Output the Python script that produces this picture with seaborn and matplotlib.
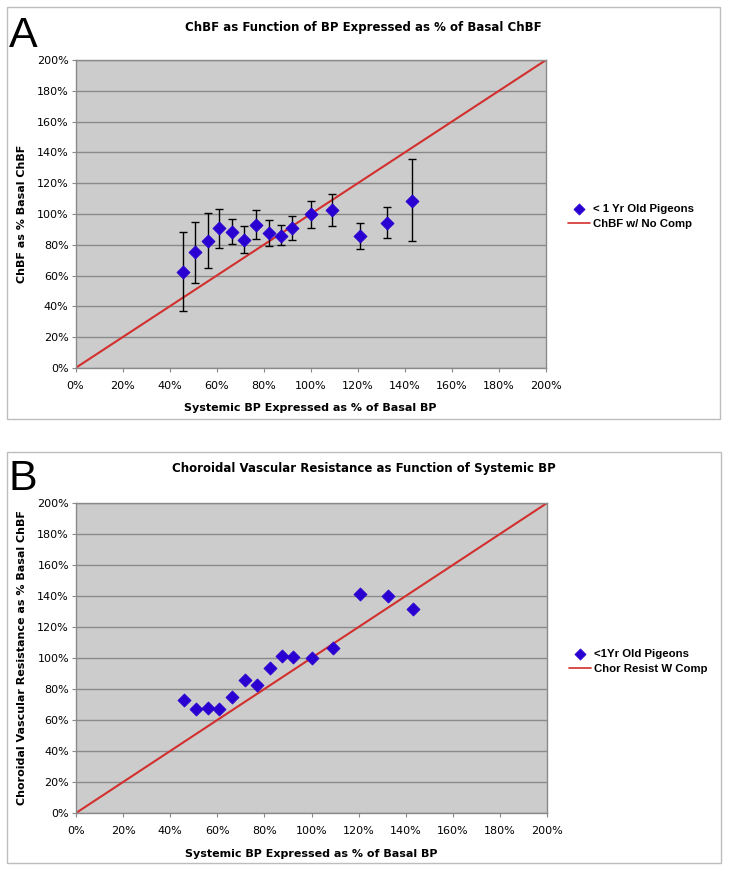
import numpy as np
import pandas as pd
from matplotlib import pyplot as plt
from matplotlib.patches import Rectangle
import seaborn as sns

sns.set_theme(style='white')
plt.rcParams['font.family'] = ['DejaVu Sans']
plt.rcParams['text.color'] = 'black'
plt.rcParams['axes.labelcolor'] = 'black'

# systemic BP as % of basal (same for both panels)
bp_pct = [45.7, 50.8, 56.2, 60.8, 66.4, 71.6, 76.8, 82.3, 87.4, 92.1, 100.0, 109.2, 120.8, 132.5, 143.0]

# panel A - ChBF as % basal, with error bar ends
chbf_pct = [62.6, 75.1, 82.6, 90.8, 88.6, 83.2, 92.9, 87.7, 86.0, 91.2, 100.0, 102.6, 85.4, 94.2, 108.6]
chbf_top = [88.4, 94.8, 100.4, 103.4, 96.8, 92.3, 102.4, 96.1, 92.7, 98.7, 108.6, 112.9, 94.2, 104.5, 135.5]
chbf_bot = [37.0, 55.3, 64.9, 78.1, 80.4, 74.4, 83.9, 79.1, 79.8, 83.4, 91.0, 92.5, 77.0, 84.3, 82.2]

# panel B - choroidal vascular resistance as % basal
resist_pct = [73.1, 67.3, 67.7, 66.9, 74.8, 85.8, 82.4, 93.8, 101.3, 100.9, 100.0, 106.5, 141.4, 140.3, 131.5]

# identity line (no compensation)
ident_x = [0, 200]
ident_y = [0, 200]

ticks = list(range(0, 201, 20))
tick_labels = ['%d%%' % t for t in ticks]

W, H = 729, 871
fig = plt.figure(figsize=(W / 100, H / 100), dpi=100)

blue = '#2a00d2'
red = '#d2302e'


def panel(box, axpos, letter, letter_y, title, title_y, ylabel, y, lab_pts, lab_line, leg_xy, yerr=None):
    # outer frame around the panel
    x0, y0, x1, y1 = box
    fig.patches.append(Rectangle((x0 / W, 1 - y1 / H), (x1 - x0) / W, (y1 - y0) / H,
                                 transform=fig.transFigure, fill=False,
                                 edgecolor='#bdbdbd', linewidth=1.0))
    l, t, r, b = axpos
    ax = fig.add_axes([l / W, 1 - b / H, (r - l) / W, (b - t) / H])
    ax.set_facecolor('#cccccc')

    df = pd.DataFrame({'x': bp_pct, 'y': y})
    if yerr is not None:
        ax.errorbar(df['x'], df['y'], yerr=yerr, fmt='none', ecolor='black',
                    elinewidth=1.0, capsize=3, capthick=1.0, zorder=3)
    sns.lineplot(x=ident_x, y=ident_y, color=red, linewidth=1.5, ax=ax,
                 label=lab_line, zorder=2)
    sns.scatterplot(data=df, x='x', y='y', marker='D', s=45, color=blue,
                    edgecolor=blue, linewidth=0.5, ax=ax, label=lab_pts, zorder=4)

    ax.set_xlim(0, 200)
    ax.set_ylim(0, 200)
    ax.set_xticks(ticks)
    ax.set_xticklabels(tick_labels)
    ax.set_yticks(ticks)
    ax.set_yticklabels(tick_labels)
    ax.tick_params(axis='both', labelsize=8, length=3, width=0.8,
                   color='#888888', direction='out', labelcolor='black')
    ax.tick_params(axis='x', pad=6, bottom=True)
    ax.tick_params(axis='y', pad=2, left=True)
    ax.yaxis.grid(True, color='#8a8a8a', linewidth=1.0)
    ax.xaxis.grid(False)
    ax.set_axisbelow(True)
    for sp in ax.spines.values():
        sp.set_color('#8a8a8a')
        sp.set_linewidth(1.0)

    ax.set_xlabel('Systemic BP Expressed as % of Basal BP', fontsize=8, fontweight='bold')
    ax.set_ylabel(ylabel, fontsize=8, fontweight='bold')
    ax.xaxis.set_label_coords(0.5, -0.115)
    ax.yaxis.set_label_coords(-0.103, 0.5)

    handles, labels = ax.get_legend_handles_labels()
    order = [labels.index(lab_pts), labels.index(lab_line)]
    leg = ax.legend([handles[i] for i in order], [labels[i] for i in order],
                    loc='upper left', bbox_to_anchor=(leg_xy[0] / W, 1 - leg_xy[1] / H),
                    bbox_transform=fig.transFigure, frameon=False, borderpad=0,
                    handlelength=2.0, handletextpad=0.25, labelspacing=0.5,
                    markerscale=0.85,
                    prop={'family': 'Liberation Sans', 'weight': 'bold', 'size': 8.2})
    for ln in leg.get_lines():
        ln.set_linewidth(1.2)

    fig.text((x0 + x1) / 2 / W, 1 - title_y / H, title, ha='center', va='center',
             fontsize=8.5, fontweight='bold')
    fig.text(9 / W, 1 - letter_y / H, letter, ha='left', va='baseline',
             fontsize=31, family='Liberation Sans')
    return ax


err_a = [np.array(chbf_pct) - np.array(chbf_bot), np.array(chbf_top) - np.array(chbf_pct)]

panel((7, 7, 720, 419), (75.5, 60, 546, 368), 'A', 47,
      'ChBF as Function of BP Expressed as % of Basal ChBF', 27,
      'ChBF as % Basal ChBF', chbf_pct,
      '< 1 Yr Old Pigeons', 'ChBF w/ No Comp', (562, 198), yerr=err_a)

panel((7, 452, 721, 863), (76, 503, 547, 813), 'B', 490,
      'Choroidal Vascular Resistance as Function of Systemic BP', 468,
      'Choroidal Vascular Resistance as % Basal ChBF', resist_pct,
      '<1Yr Old Pigeons', 'Chor Resist W Comp', (563, 643))

fig.savefig('out.png', dpi=100, facecolor='white')
